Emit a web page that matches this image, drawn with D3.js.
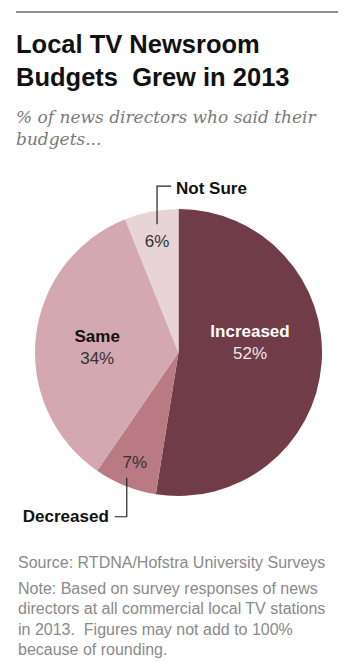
<!DOCTYPE html>
<html>
<head>
<meta charset="utf-8">
<script src="https://cdn.jsdelivr.net/npm/d3@7"></script>
<style>
  html, body { margin: 0; padding: 0; background: #fff; }
  svg { display: block; }
  .title { font-family: "Liberation Sans", Arial, sans-serif; font-weight: bold; font-size: 25.5px; fill: #111; }
  .subtitle { font-family: "DejaVu Serif", Georgia, serif; font-style: italic; font-size: 17px; fill: #7a7a7a; }
  .name { font-family: "Liberation Sans", Arial, sans-serif; font-weight: bold; font-size: 17px; }
  .pct { font-family: "Liberation Sans", Arial, sans-serif; font-size: 17px; }
  .foot { font-family: "Liberation Sans", Arial, sans-serif; font-size: 16px; fill: #8a8a8a; }
</style>
</head>
<body>
<div id="chart"></div>
<script>
// 数据
const categories = ['Increased', 'Decreased', 'Same', 'Not Sure'];
const values = [52, 7, 34, 6];
const titleLines = ['Local TV Newsroom', 'Budgets  Grew in 2013'];
const subtitleLines = ['% of news directors who said their', 'budgets...'];
const sourceLine = 'Source: RTDNA/Hofstra University Surveys';
const noteLines = [
    'Note: Based on survey responses of news',
    'directors at all commercial local TV stations',
    'in 2013.  Figures may not add to 100%',
    'because of rounding.'
];

const width = 359, height = 671;
const cx = 178.5, cy = 352.5, radius = 143.5;

const svg = d3.select('#chart').append('svg')
    .attr('width', width)
    .attr('height', height);

// 顶部横线
svg.append('line')
    .attr('x1', 16).attr('x2', 338)
    .attr('y1', 12).attr('y2', 12)
    .attr('stroke', '#222').attr('stroke-width', 1.2);

// 标题
svg.selectAll('.title')
    .data(titleLines)
    .enter().append('text')
    .attr('class', 'title')
    .attr('x', 16)
    .attr('y', (d, i) => 53 + i * 33)
    .style('white-space', 'pre')
    .text(d => d);

svg.selectAll('.subtitle')
    .data(subtitleLines)
    .enter().append('text')
    .attr('class', 'subtitle')
    .attr('x', 16)
    .attr('y', (d, i) => 123 + i * 22)
    .text(d => d);

// 饼图
const color = d3.scaleOrdinal()
    .domain(categories)
    .range(['#6f3c48', '#b97a84', '#d3a8b0', '#e8d4d7']);

const pie = d3.pie().sort(null).value(d => d.value);
const arcs = pie(categories.map((c, i) => ({ name: c, value: values[i] })));
const arc = d3.arc().innerRadius(0).outerRadius(radius);

const g = svg.append('g').attr('transform', `translate(${cx},${cy})`);

g.selectAll('path')
    .data(arcs)
    .enter().append('path')
    .attr('d', arc)
    .attr('fill', d => color(d.data.name));

// 标签位置（按比例半径）
const labelRadius = { 'Increased': 0.5, 'Decreased': 0.82, 'Same': 0.57, 'Not Sure': 0.79 };
const labelShift = { 'Increased': -21, 'Same': -1 };
function labelPos(d) {
    const r = radius * labelRadius[d.data.name];
    return d3.arc().innerRadius(r).outerRadius(r).centroid(d);
}

arcs.forEach(d => {
    const [x, y] = labelPos(d);
    const name = d.data.name;
    const pctText = d.data.value + '%';
    if (name === 'Increased' || name === 'Same') {
        const fill = name === 'Increased' ? '#fff' : '#111';
        const y0 = y + labelShift[name];
        g.append('text').attr('class', 'name')
            .attr('x', x).attr('y', y0)
            .attr('text-anchor', 'middle')
            .attr('fill', fill)
            .text(name);
        g.append('text').attr('class', 'pct')
            .attr('x', x).attr('y', y0 + 22)
            .attr('text-anchor', 'middle')
            .attr('fill', name === 'Increased' ? '#f2e6e8' : '#333')
            .text(pctText);
    } else if (name === 'Not Sure') {
        g.append('text').attr('class', 'pct')
            .attr('x', x).attr('y', y + 6)
            .attr('text-anchor', 'middle')
            .attr('fill', '#333')
            .text(pctText);
        // 引线
        g.append('path')
            .attr('d', `M${x},${y - 17}V${y - 55}H${x + 14}`)
            .attr('fill', 'none').attr('stroke', '#222').attr('stroke-width', 1.2);
        g.append('text').attr('class', 'name')
            .attr('x', x + 19).attr('y', y - 47)
            .attr('fill', '#111')
            .text(name);
    } else {
        g.append('text').attr('class', 'pct')
            .attr('x', x).attr('y', y + 6)
            .attr('text-anchor', 'middle')
            .attr('fill', '#333')
            .text(pctText);
        g.append('path')
            .attr('d', `M${x - 8},${y + 16}V${y + 55}H${x - 20}`)
            .attr('fill', 'none').attr('stroke', '#222').attr('stroke-width', 1.2);
        g.append('text').attr('class', 'name')
            .attr('x', x - 26).attr('y', y + 60)
            .attr('text-anchor', 'end')
            .attr('fill', '#111')
            .text(name);
    }
});

// 来源与说明
svg.append('text')
    .attr('class', 'foot')
    .attr('x', 18).attr('y', 568)
    .text(sourceLine);

svg.selectAll('.note')
    .data(noteLines)
    .enter().append('text')
    .attr('class', 'foot note')
    .attr('x', 18)
    .attr('y', (d, i) => 594 + i * 20.3)
    .style('white-space', 'pre')
    .text(d => d);
</script>
</body>
</html>
